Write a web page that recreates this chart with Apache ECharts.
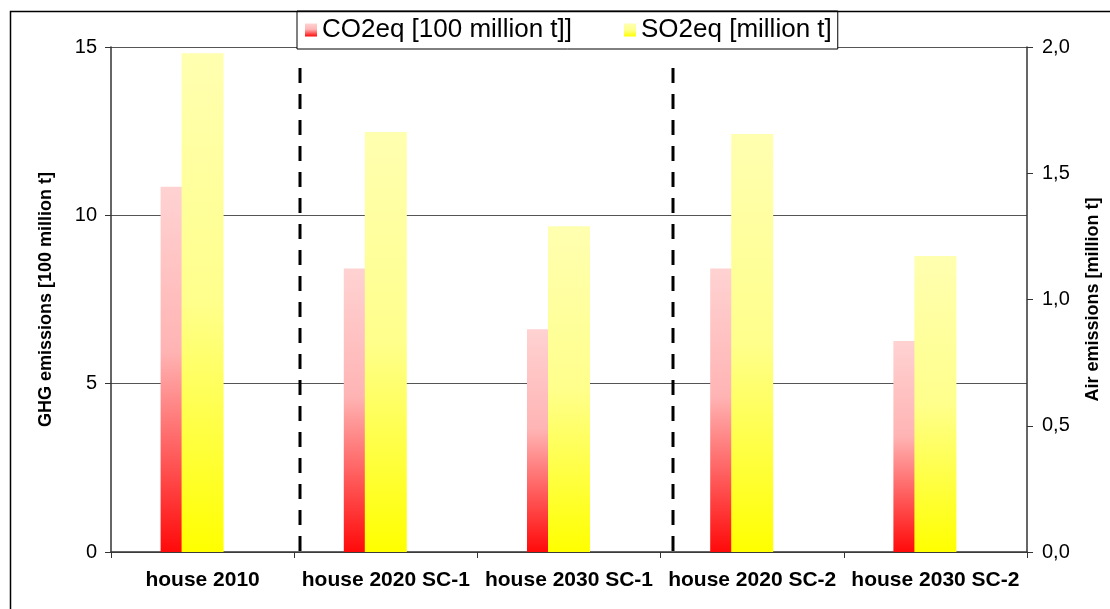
<!DOCTYPE html>
<html>
<head>
<meta charset="utf-8">
<script src="https://cdn.jsdelivr.net/npm/echarts@6/dist/echarts.min.js"></script>
<style>
html,body{margin:0;padding:0;background:#fff;}
#c{width:1110px;height:609px;}
</style>
</head>
<body>
<div id="c"></div>
<script>
const categories = ['house 2010', 'house 2020 SC-1', 'house 2030 SC-1', 'house 2020 SC-2', 'house 2030 SC-2'];
const co2Values = [10.85, 8.42, 6.62, 8.42, 6.27];
const so2Values = [1.975, 1.663, 1.29, 1.655, 1.172];
const leftTicks = { min: 0, max: 15, interval: 5 };
const rightTicks = { min: 0, max: 2, interval: 0.5 };

const FONT = '"Liberation Sans", Arial, sans-serif';
const chart = echarts.init(document.getElementById('c'), null, { renderer: 'canvas' });

const redGrad = new echarts.graphic.LinearGradient(0, 0, 0, 1, [
  { offset: 0, color: '#FFD2D2' },
  { offset: 0.45, color: '#FFB4B4' },
  { offset: 1, color: '#FF0A0A' }
]);
const yellowGrad = new echarts.graphic.LinearGradient(0, 0, 0, 1, [
  { offset: 0, color: '#FFFFB0' },
  { offset: 0.5, color: '#FFFF8C' },
  { offset: 1, color: '#FFFF00' }
]);

const option = {
  backgroundColor: '#fff',
  animation: false,
  textStyle: { fontFamily: FONT },
  grid: { left: 111, right: 79, top: 47, bottom: 57 },
  legend: {
    data: ['CO2eq [100 million t]]', 'SO2eq [million t]'],
    left: 297, top: 11,
    orient: 'horizontal',
    icon: 'rect',
    itemWidth: 12, itemHeight: 13,
    itemGap: 52,
    padding: [6, 6, 6, 8],
    borderColor: '#000', borderWidth: 1,
    backgroundColor: '#fff',
    textStyle: { fontSize: 26, color: '#000', fontFamily: FONT },
    z: 20
  },
  xAxis: [
    {
      type: 'category', data: categories, gridIndex: 0,
      axisLine: { show: true, lineStyle: { color: '#333', width: 1.5 } },
      axisTick: { show: true, length: 6, lineStyle: { color: '#333' } },
      axisLabel: { fontSize: 21, fontWeight: 'bold', color: '#000', margin: 18, fontFamily: FONT, interval: 0 },
      splitLine: { show: false }
    },
    {
      type: 'category', data: categories, gridIndex: 0, show: false
    }
  ],
  yAxis: [
    {
      type: 'value', min: leftTicks.min, max: leftTicks.max, interval: leftTicks.interval,
      name: 'GHG emissions [100 million t]', nameLocation: 'middle', nameRotate: 90, nameGap: 56,
      nameTextStyle: { fontSize: 18, fontWeight: 'bold', color: '#000', fontFamily: FONT },
      axisLine: { show: true, lineStyle: { color: '#333', width: 1.5 } },
      axisTick: { show: true, length: 6, lineStyle: { color: '#333' } },
      axisLabel: { fontSize: 20, color: '#000', margin: 14, fontFamily: FONT },
      splitLine: { show: true, lineStyle: { color: '#555', width: 1 } }
    },
    {
      type: 'value', min: rightTicks.min, max: rightTicks.max, interval: rightTicks.interval,
      position: 'right',
      name: 'Air emissions [million t]', nameLocation: 'middle', nameRotate: 90, nameGap: 57,
      nameTextStyle: { fontSize: 18, fontWeight: 'bold', color: '#000', fontFamily: FONT },
      axisLine: { show: true, lineStyle: { color: '#333', width: 1.5 } },
      axisTick: { show: true, length: 6, lineStyle: { color: '#333' } },
      axisLabel: { fontSize: 20, color: '#000', margin: 15, fontFamily: FONT,
        formatter: v => v.toFixed(1).replace('.', ',') },
      splitLine: { show: false }
    }
  ],
  series: [
    {
      name: 'CO2eq [100 million t]]', type: 'bar', xAxisIndex: 1, yAxisIndex: 0,
      data: co2Values, barWidth: 42, barGap: '0%',
      itemStyle: { color: redGrad }, z: 2
    },
    {
      name: '_spacer', type: 'bar', xAxisIndex: 1, yAxisIndex: 0,
      data: categories.map(() => null), barWidth: 42, barGap: '0%', z: 2
    },
    {
      name: 'SO2eq [million t]', type: 'bar', xAxisIndex: 0, yAxisIndex: 1,
      data: so2Values, barWidth: 42,
      itemStyle: { color: yellowGrad }, z: 3
    }
  ],
  graphic: [
    {
      type: 'rect', z: 100, silent: true,
      shape: { x: 10.5, y: 11.5, width: 1110, height: 610 },
      style: { fill: null, stroke: '#000', lineWidth: 1.5 }
    },
    {
      type: 'line', z: 50, silent: true,
      shape: { x1: 300, y1: 68, x2: 300, y2: 562 },
      style: { stroke: '#000', lineWidth: 3, lineDash: [15, 11] }
    },
    {
      type: 'line', z: 50, silent: true,
      shape: { x1: 673, y1: 68, x2: 673, y2: 562 },
      style: { stroke: '#000', lineWidth: 3, lineDash: [15, 11] }
    }
  ]
};
chart.setOption(option);
</script>
</body>
</html>
